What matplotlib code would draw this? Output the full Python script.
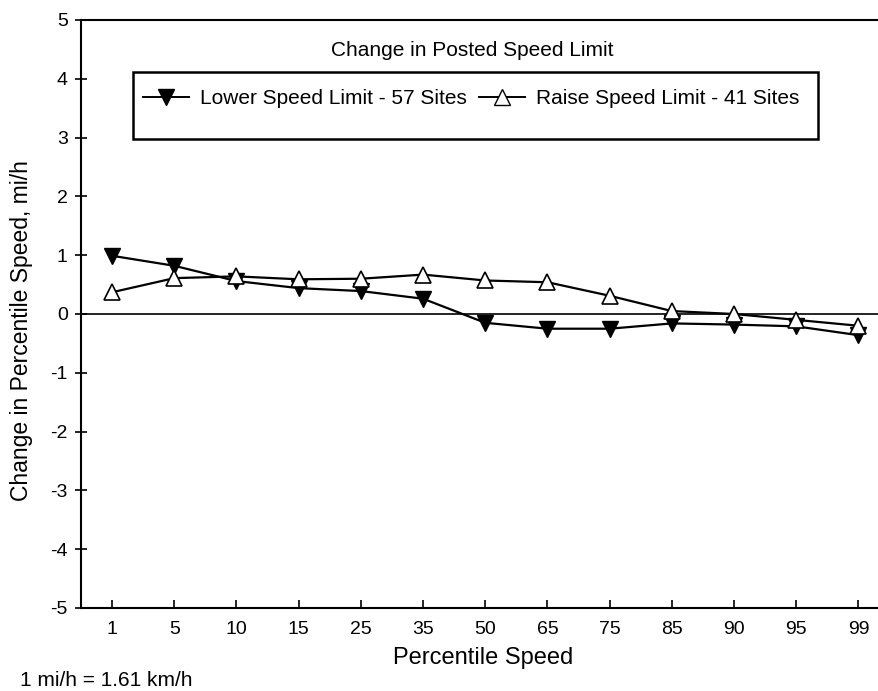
import matplotlib
matplotlib.use("Agg")
import matplotlib.pyplot as plt
from matplotlib.patches import Rectangle
from matplotlib.lines import Line2D

plt.rcParams['font.family'] = ['Liberation Sans', 'DejaVu Sans']

categories = ["1", "5", "10", "15", "25", "35", "50", "65", "75", "85", "90", "95", "99"]
lower_vals = [0.99, 0.82, 0.56, 0.44, 0.39, 0.26, -0.15, -0.25, -0.25, -0.16, -0.18, -0.21, -0.36]
raise_vals = [0.37, 0.61, 0.64, 0.59, 0.60, 0.67, 0.57, 0.54, 0.31, 0.05, 0.00, -0.10, -0.20]
yticks = [5, 4, 3, 2, 1, 0, -1, -2, -3, -4, -5]
lower_label = "Lower Speed Limit - 57 Sites"
raise_label = "Raise Speed Limit - 41 Sites"
legend_title = "Change in Posted Speed Limit"

fig = plt.figure(figsize=(8.79, 6.91), dpi=100)
ax = fig.add_axes([81/879, 1-608/691, 798/879, 588/691])

x = list(range(len(categories)))
ax.axhline(0, color='black', lw=1.2, zorder=1)
ax.plot(x, lower_vals, color='black', lw=1.6, marker='v', markersize=11,
        markerfacecolor='black', markeredgecolor='black', zorder=3)
ax.plot(x, raise_vals, color='black', lw=1.6, marker='^', markersize=11,
        markerfacecolor='white', markeredgecolor='black', markeredgewidth=1.2, zorder=3)

ax.set_xlim(-0.5, 12.33)
ax.set_ylim(-5, 5)
ax.set_xticks(x)
ax.set_xticklabels(categories, fontsize=14)
ax.set_yticks(yticks)
ax.set_yticklabels([str(v) for v in yticks], fontsize=14)
ax.tick_params(axis='y', direction='inout', length=9, width=1.2, pad=5)
ax.tick_params(axis='x', direction='in', length=6, width=1.2, pad=9)
for s in ['left', 'bottom', 'top']:
    ax.spines[s].set_linewidth(1.5)
ax.spines['right'].set_visible(False)

ax.set_xlabel("Percentile Speed", fontsize=17)
ax.xaxis.set_label_coords((483 - 81) / 798, -(658 - 608) / 588)
ax.xaxis.label.set_va('center')
ax.set_ylabel("Change in Percentile Speed, mi/h", fontsize=16.5)
ax.yaxis.set_label_coords((22 - 81) / 798, (608 - 331) / 588)
ax.yaxis.label.set_va('center')

# legend box
rect = Rectangle((0.065, 0.797), 0.859, 0.115, transform=ax.transAxes,
                 facecolor='white', edgecolor='black', lw=1.8, zorder=4)
ax.add_patch(rect)
handles = [
    Line2D([], [], color='black', lw=1.4, marker='v', markersize=11,
           markerfacecolor='black', markeredgecolor='black'),
    Line2D([], [], color='black', lw=1.4, marker='^', markersize=11,
           markerfacecolor='white', markeredgecolor='black'),
]
leg = ax.legend(handles, [lower_label, raise_label], ncol=2, frameon=False,
                loc='center', bbox_to_anchor=(0.489, 0.866), fontsize=15,
                handlelength=2.2, handletextpad=0.53, columnspacing=0.62,
                borderpad=0, borderaxespad=0)
leg.set_zorder(5)
ax.text(0.49, 0.948, legend_title, transform=ax.transAxes, ha='center', va='center',
        fontsize=15)

fig.text(20/879, 1-681/691, "1 mi/h = 1.61 km/h", fontsize=15, ha='left', va='center')

fig.savefig("out.png", dpi=100)
